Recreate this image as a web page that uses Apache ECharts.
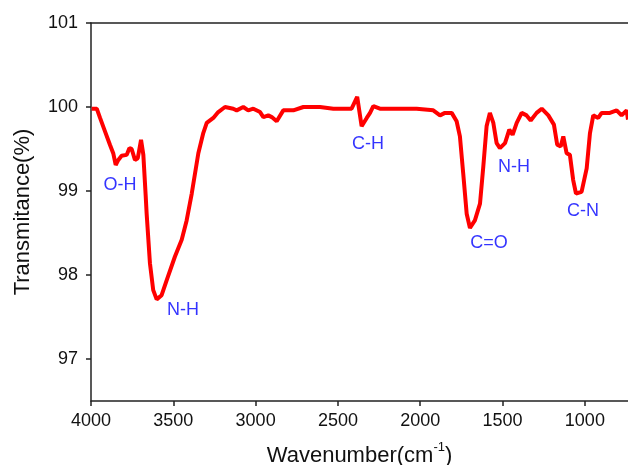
<!DOCTYPE html>
<html>
<head>
<meta charset="utf-8">
<script src="https://cdn.jsdelivr.net/npm/echarts@6/dist/echarts.min.js"></script>
<style>
  html, body { margin: 0; padding: 0; background: #fff; }
  #chart { width: 628px; height: 465px; }
</style>
</head>
<body>
<div id="chart"></div>
<script>
// FTIR spectrum
const wavenumber = [3996, 3965, 3945, 3915, 3885, 3865, 3850, 3834, 3814, 3783, 3767, 3753, 3733, 3716, 3696, 3682,
  3668, 3662, 3642, 3622, 3601, 3571, 3540, 3490, 3449, 3419, 3388, 3348, 3318, 3297, 3257, 3227, 3186,
  3136, 3115, 3075, 3045, 3014, 2973, 2953, 2923, 2902, 2872, 2832, 2771, 2710, 2609, 2528, 2417, 2383,
  2356, 2325, 2305, 2285, 2245, 2123, 2022, 1921, 1880, 1850, 1809, 1779, 1759, 1739, 1718, 1698, 1668,
  1637, 1617, 1597, 1577, 1556, 1536, 1516, 1485, 1459, 1439, 1414, 1384, 1354, 1329, 1293, 1262, 1222,
  1188, 1168, 1147, 1131, 1111, 1091, 1071, 1054, 1020, 989, 969, 949, 919, 898, 848, 807, 777, 746, 738];
const transmittance = [99.98, 99.98, 99.87, 99.71, 99.55, 99.45, 99.31, 99.37, 99.42, 99.43, 99.51, 99.50, 99.37, 99.39, 99.61, 99.43,
  98.95, 98.73, 98.14, 97.82, 97.71, 97.76, 97.94, 98.22, 98.42, 98.65, 98.97, 99.45, 99.69, 99.81, 99.87, 99.94, 100.00,
  99.98, 99.96, 100.00, 99.96, 99.98, 99.94, 99.88, 99.90, 99.88, 99.83, 99.96, 99.96, 100.00, 100.00, 99.98, 99.98, 100.12,
  99.77, 99.87, 99.93, 100.01, 99.98, 99.98, 99.98, 99.96, 99.90, 99.93, 99.93, 99.83, 99.65, 99.21, 98.73, 98.56, 98.65,
  98.85, 99.29, 99.77, 99.93, 99.81, 99.57, 99.51, 99.57, 99.73, 99.67, 99.81, 99.93, 99.90, 99.84, 99.93, 99.98, 99.90,
  99.79, 99.55, 99.53, 99.65, 99.45, 99.43, 99.13, 98.97, 98.99, 99.27, 99.69, 99.90, 99.87, 99.93, 99.93, 99.96, 99.90, 99.96, 99.85];

// band labels
const bandNames = ['O-H', 'N-H', 'C-H', 'C=O', 'N-H', 'C-N'];
const bandX = [3824, 3441, 2317, 1583, 1431, 1012];
const bandY = [99.07, 97.58, 99.56, 98.38, 99.29, 98.76];

const xTicks = [4000, 3500, 3000, 2500, 2000, 1500, 1000];
const yTicks = [97, 98, 99, 100, 101];

const font = 'Liberation Sans, Arial, sans-serif';
const axisColor = '#222';

const chart = echarts.init(document.getElementById('chart'));

chart.setOption({
  animation: false,
  grid: { left: 91, top: 23, right: 0, bottom: 64, outerBoundsMode: 'none' },
  xAxis: [{
    type: 'value',
    inverse: true,
    min: 738,
    max: 4000,
    splitLine: { show: false },
    axisLine: { show: true, lineStyle: { color: axisColor, width: 1.5 } },
    axisTick: { show: true, inside: false, length: 5, customValues: xTicks, lineStyle: { color: axisColor, width: 1.5 } },
    axisLabel: { customValues: xTicks, formatter: v => String(v), color: '#111', fontSize: 18, fontFamily: font, margin: 11 },
    name: '{a|Wavenumber(cm}{s|-1}{a|)}',
    nameLocation: 'middle',
    nameGap: 40,
    nameTextStyle: {
      rich: {
        a: { fontSize: 22, fontFamily: font, color: '#111', verticalAlign: 'bottom', lineHeight: 26 },
        s: { fontSize: 13, fontFamily: font, color: '#111', verticalAlign: 'top', lineHeight: 26, padding: [0, 0, 12, 0] }
      }
    }
  }, {
    type: 'value',
    position: 'top',
    inverse: true,
    min: 738,
    max: 4000,
    splitLine: { show: false },
    axisLine: { show: true, lineStyle: { color: axisColor, width: 1.5 } },
    axisTick: { show: false },
    axisLabel: { show: false }
  }],
  yAxis: {
    type: 'value',
    min: 96.5,
    max: 101,
    splitLine: { show: false },
    axisLine: { show: true, lineStyle: { color: axisColor, width: 1.5 } },
    axisTick: { show: true, inside: false, length: 5, customValues: yTicks, lineStyle: { color: axisColor, width: 1.5 } },
    axisLabel: { customValues: yTicks, color: '#111', fontSize: 18, fontFamily: font, margin: 13 },
    name: 'Transmitance(%)',
    nameLocation: 'middle',
    nameGap: 57,
    nameTextStyle: { fontSize: 22, fontFamily: font, color: '#111' }
  },
  series: [{
    type: 'line',
    data: wavenumber.map((w, i) => [w, transmittance[i]]),
    showSymbol: false,
    symbol: 'none',
    lineStyle: { color: '#ff0000', width: 4 },
    z: 3
  }, {
    type: 'scatter',
    data: bandX.map((w, i) => [w, bandY[i], bandNames[i]]),
    symbolSize: 0,
    label: {
      show: true,
      position: 'inside',
      formatter: p => p.data[2],
      color: '#0000ff',
      fontSize: 18,
      fontFamily: font
    },
    silent: true,
    z: 4
  }]
});
</script>
</body>
</html>
